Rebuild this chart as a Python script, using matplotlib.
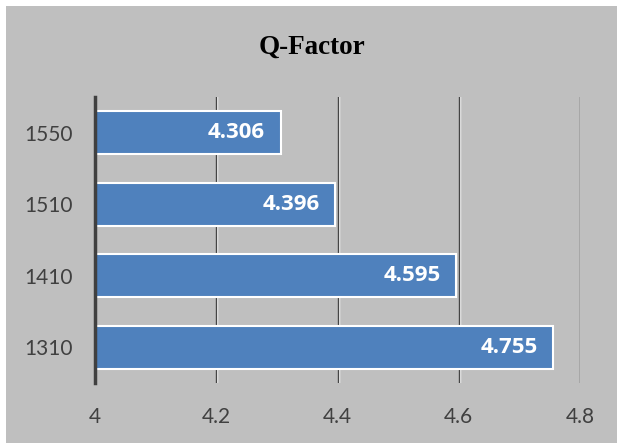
import matplotlib.pyplot as plt
import matplotlib.patheffects as pe
from matplotlib.patches import Rectangle

# 数据
wavelengths = ['1310', '1410', '1510', '1550']
q_values = [4.755, 4.595, 4.396, 4.306]
x_ticks = [4, 4.2, 4.4, 4.6, 4.8]

bg = '#bfbfbf'
bar_color = '#4f81bd'
text_color = '#404040'

fig = plt.figure(figsize=(6.19, 4.43), dpi=100)
fig.patch.set_facecolor('white')
# 灰色图表区域（左、上、右留白边）
fig.patches.append(Rectangle((6 / 619, 0), 611 / 619, 1 - 6 / 443, transform=fig.transFigure,
                             facecolor=bg, edgecolor='none', zorder=-5))

ax = fig.add_axes([95 / 619, 1 - 383 / 443, 485 / 619, 286 / 443])
ax.set_facecolor('none')

ypos = range(len(wavelengths))
bars = ax.barh(ypos, [v - 4 for v in q_values], left=4, height=0.6,
               color=bar_color, edgecolor='white', linewidth=1.5, zorder=3)

for y, v in zip(ypos, q_values):
    ax.annotate(f'{v:.3f}', xy=(v, y), xytext=(-11, 0), textcoords='offset points',
                ha='right', va='center', color='white', fontsize=16,
                fontweight='bold', family='Open Sans', zorder=4)

# 网格线（深色线 + 右侧白色高光）
for xv in x_ticks[1:]:
    ax.axvline(xv, color='#454545', linewidth=1.0, zorder=1,
               path_effects=[pe.SimpleLineShadow(offset=(0.8, 0), shadow_color='white', alpha=1),
                             pe.Normal()])

ax.set_xlim(4, 4.8)
ax.set_ylim(-0.5, len(wavelengths) - 0.5)
ax.set_xticks(x_ticks)
ax.set_xticklabels(['4', '4.2', '4.4', '4.6', '4.8'])
ax.set_yticks(list(ypos))
ax.set_yticklabels(wavelengths)
ax.tick_params(axis='both', length=0, labelsize=15, colors=text_color)
ax.tick_params(axis='x', pad=17)
ax.tick_params(axis='y', pad=16)
for lab in ax.get_xticklabels() + ax.get_yticklabels():
    lab.set_family('Lato')

for s in ['top', 'right', 'bottom']:
    ax.spines[s].set_visible(False)
ax.spines['left'].set_color(text_color)
ax.spines['left'].set_linewidth(2.5)
ax.spines['left'].set_zorder(5)

fig.text(0.5 + 3 / 619, 1 - 47 / 443, 'Q-Factor', ha='center', va='center',
         fontsize=19.5, fontweight='bold', family='Liberation Serif', color='black')

fig.savefig('out.png', dpi=100, facecolor=fig.get_facecolor())
